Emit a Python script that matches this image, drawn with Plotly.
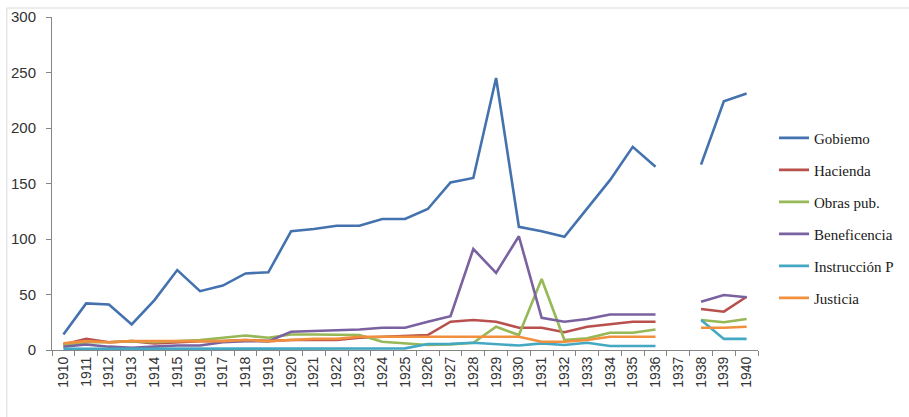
import plotly.graph_objects as go

years = [str(y) for y in range(1910, 1941)]

# Series values by year (None = no data for that year)
gobierno = [14, 42, 41, 23, 45, 72, 53, 58, 69, 70, 107, 109, 112, 112, 118, 118, 127, 151, 155, 245,
            111, 107, 102, 128, 153, 183, 165, None, 167, 224, 231]
hacienda = [5, 10, 7, 8, 6, 7, 8, 8, 9, 8, 9, 9, 9, 11, 12, 12.5, 13.5, 25.5, 27, 25.5,
            20, 20, 16, 21, 23.5, 25.5, 25.5, None, 37, 34.5, 48]
obras = [4, 7, 7, 8, 7, 8, 9, 11, 13, 11, 14, 14, 14, 13.5, 7.5, 6, 4.5, 5, 6.5, 21,
         13.5, 64, 9, 10.5, 15.5, 15.5, 18.5, None, 27, 25, 28]
beneficencia = [3, 5, 3, 2, 3, 4, 4, 7, 8, 8, 16.5, 17, 17.5, 18.5, 20, 20, 25.5, 30.5, 91, 69.5,
                102.5, 29, 25.5, 28, 32, 32, 32, None, 43.5, 49.5, 47.5]
instruccion = [1, 1, 1.5, 1.5, 1.5, 1.5, 1.5, 1.5, 1.5, 1.5, 1.5, 1.5, 1.5, 1.5, 1.5, 1.5, 5.4, 5.5, 6.5, 5.4,
               4, 6, 4.5, 6.5, 3.6, 3.6, 3.6, None, 27, 10, 10]
justicia = [6, 8, 7, 8, 8, 8, 8, 8, 9, 8, 9, 10, 10, 12, 12, 12, 12, 12, 12, 12,
            12, 7.5, 7.5, 9, 12, 12, 12, None, 20, 20, 21]

series_names = ["Gobiemo", "Hacienda", "Obras pub.", "Beneficencia", "Instrucción P", "Justicia"]
series_values = [gobierno, hacienda, obras, beneficencia, instruccion, justicia]
series_colors = ["#4472AE", "#B8504D", "#96B856", "#7A61A0", "#45A8C3", "#F0903E"]

y_ticks = [0, 50, 100, 150, 200, 250, 300]

fig = go.Figure()
for i, (name, vals, col) in enumerate(zip(series_names, series_values, series_colors)):
    fig.add_trace(go.Scatter(
        x=years, y=vals, name=name, mode="lines",
        line=dict(color=col, width=2.6),
        connectgaps=False, legendgroup=f"g{i}",
    ))

fig.update_layout(
    width=909, height=417,
    margin=dict(l=52, r=151, t=17, b=67, autoexpand=False),
    paper_bgcolor="white", plot_bgcolor="white",
    showlegend=True,
    legend=dict(
        xref="container", yref="container",
        x=0.8515, y=0.7084, xanchor="left", yanchor="top",
        font=dict(family="Liberation Serif", size=15, color="#1a1a1a"),
        tracegroupgap=9.5, bgcolor="rgba(0,0,0,0)",
    ),
    xaxis=dict(
        type="category", categoryorder="array", categoryarray=years,
        tickson="boundaries", ticks="outside", ticklen=5, tickcolor="#868686",
        showline=True, linecolor="#868686", linewidth=1,
        showgrid=False, tickangle=-90,
        tickfont=dict(family="Liberation Sans", size=14, color="#333333"),
        range=[-0.5, 30.5],
    ),
    yaxis=dict(
        range=[0, 300], tickvals=y_ticks,
        ticks="outside", ticklen=5, tickcolor="#868686",
        showline=True, linecolor="#868686", linewidth=1,
        showgrid=False, zeroline=False, ticklabelstandoff=7,
        tickfont=dict(family="Liberation Sans", size=15, color="#333333"),
    ),
    shapes=[
        dict(type="line", xref="paper", yref="paper", x0=-0.064, x1=1.3, y0=1.027, y1=1.027,
             line=dict(color="#d9d9d9", width=1)),
        dict(type="line", xref="paper", yref="paper", x0=-0.064, x1=-0.064, y0=1.027, y1=-0.3,
             line=dict(color="#d9d9d9", width=1)),
    ],
)

fig.write_html("out.html")
